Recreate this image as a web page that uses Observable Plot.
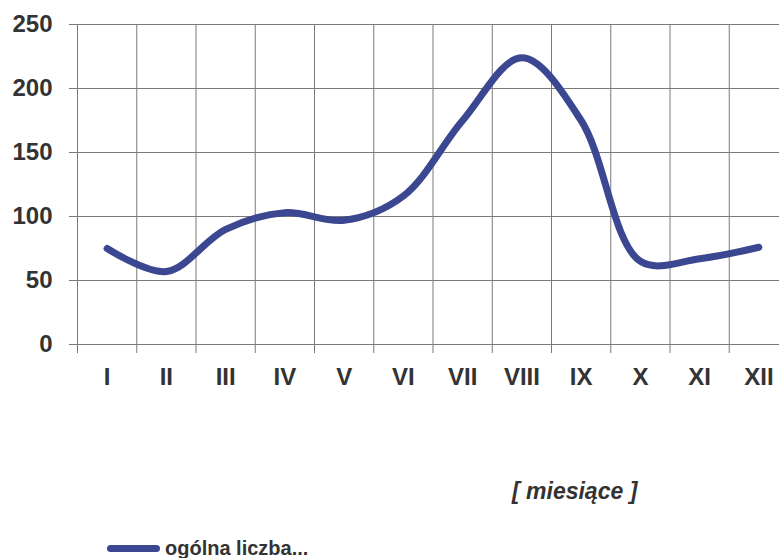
<!DOCTYPE html>
<html><head><meta charset="utf-8">
<script src="https://cdn.jsdelivr.net/npm/d3@7"></script>
<script src="https://cdn.jsdelivr.net/npm/@observablehq/plot@0.6"></script>
<style>
body{margin:0;background:#fff;font-family:"Liberation Sans",Arial,sans-serif;}
#wrap{position:relative;width:779px;height:558px;overflow:hidden;background:#fff;}
#chart{position:absolute;left:0;top:0;}
#xtitle{position:absolute;left:512px;top:479px;font-size:23px;line-height:24px;font-weight:bold;font-style:italic;color:#333;white-space:nowrap;}
#legend{position:absolute;left:107px;top:538px;height:20px;display:flex;align-items:center;font-size:20px;line-height:20px;font-weight:bold;color:#333;white-space:nowrap;}
#legend .sw{display:inline-block;width:53px;height:7px;border-radius:4px;margin-right:5px;}
</style></head><body>
<div id="wrap"><div id="chart"></div><div id="xtitle"></div><div id="legend"><span class="sw"></span><span class="lt"></span></div></div>
<script>
const months = ["I","II","III","IV","V","VI","VII","VIII","IX","X","XI","XII"];
const values = [75, 57, 90, 103, 97, 116, 175, 224, 175, 65, 67, 76];
const yTicks = [0, 50, 100, 150, 200, 250];
const seriesName = "ogólna liczba...";
const axisTitle = "[ miesiące ]";
const lineColor = "#3b4790";
const gridColor = "#7a7a7a";
const textColor = "#333";

const data = months.map((m, i) => ({m, i, v: values[i]}));
const bandEdges = months.map((m, i) => i);
const bandCenters = months.map((m, i) => i + 0.5);

const plot = Plot.plot({
  width: 779, height: 400,
  marginLeft: 77, marginRight: 0, marginTop: 24, marginBottom: 56,
  style: {fontFamily: '"Liberation Sans", Arial, sans-serif', fontWeight: "bold", color: textColor, background: "white"},
  x: {domain: [0, months.length], range: [77, 788], label: null},
  y: {domain: [0, 250], range: [344, 24], label: null},
  marks: [
    Plot.gridX(bandEdges, {stroke: gridColor, strokeOpacity: 1, strokeWidth: 1}),
    Plot.gridY(yTicks, {stroke: gridColor, strokeOpacity: 1, strokeWidth: 1}),
    Plot.axisX(bandEdges, {tickSize: 9, tickFormat: () => "", stroke: gridColor, label: null}),
    Plot.axisX(bandCenters, {tickSize: 0, tickPadding: 23, tickFormat: t => months[Math.floor(t)], fontSize: 24, fill: textColor, label: null}),
    Plot.axisY(yTicks, {tickSize: 8, tickPadding: 17, fontSize: 24, fill: textColor, stroke: gridColor, label: null}),
    Plot.line(data, {x: d => d.i + 0.5, y: "v", curve: "catmull-rom", stroke: lineColor, strokeWidth: 7, strokeLinecap: "round", strokeLinejoin: "round"})
  ]
});
document.getElementById("chart").appendChild(plot);
document.getElementById("xtitle").textContent = axisTitle;
document.querySelector("#legend .lt").textContent = seriesName;
document.querySelector("#legend .sw").style.background = lineColor;
</script>
</body></html>
